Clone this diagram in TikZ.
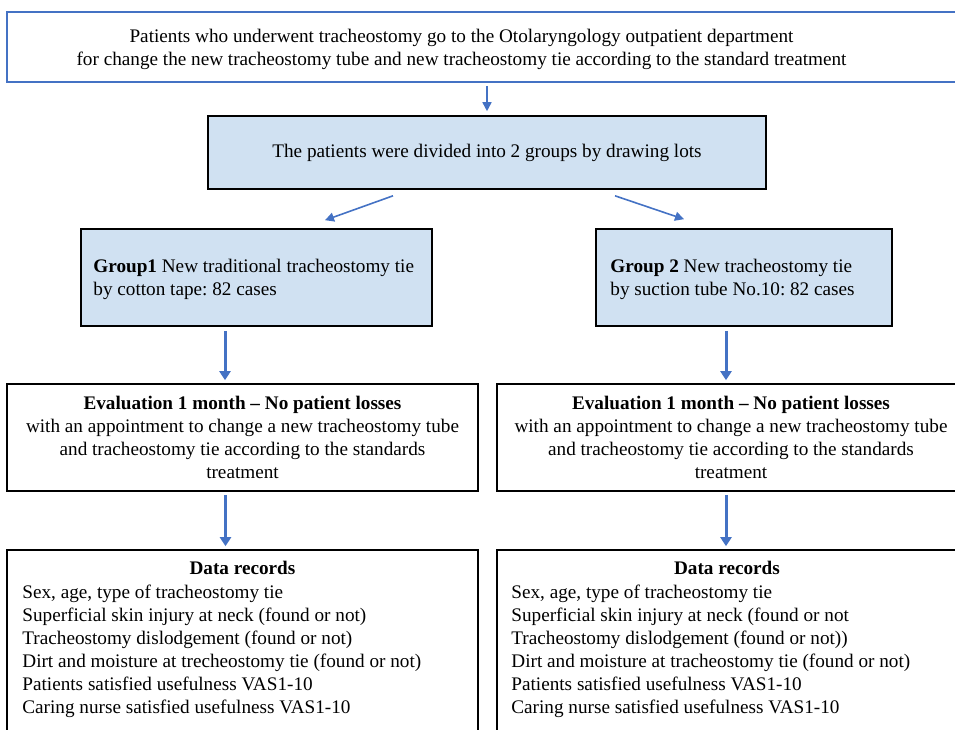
\documentclass[tikz,border=0pt]{standalone}
\usepackage{fontspec}
\setmainfont{Liberation Serif}
\usetikzlibrary{arrows.meta}
\definecolor{arrblue}{HTML}{4472C4}
\definecolor{boxfill}{HTML}{D0E1F2}
\frenchspacing
\tikzset{
  box/.style={draw=black, line width=1.6pt, inner sep=0pt},
  bluebox/.style={box, fill=boxfill},
  topframe/.style={draw=arrblue, line width=1.8pt, inner sep=0pt},
  txt/.style={inner sep=0pt, align=center},
  arrthin/.style={draw=arrblue, line width=1.6pt, -{Triangle[length=9pt,width=9pt]}},
  arrthick/.style={draw=arrblue, line width=3pt, -{Triangle[length=9pt,width=11pt]}},
}
\begin{document}
\begin{tikzpicture}[x=1pt,y=-1pt,font=\fontsize{19.2}{23}\selectfont]
\useasboundingbox (0,0) rectangle (955,729);
\clip (0,0) rectangle (955,729);
% top box
\node[topframe, minimum width=970pt, minimum height=70pt] (top) at (492,47) {};
\node[txt] (toptxt) at (461.5,49) {Patients who underwent tracheostomy go to the Otolaryngology outpatient department\\for change the new tracheostomy tube and new tracheostomy tie according to the standard treatment};
% divided box
\node[bluebox, minimum width=558pt, minimum height=73pt] (div) at (487,152.5) {\raisebox{-3pt}{The patients were divided into 2 groups by drawing lots}};
% group boxes
\node[bluebox, minimum width=351pt, minimum height=97pt] (g1) at (256.5,277.5) {};
\node[bluebox, minimum width=296pt, minimum height=97pt] (g2) at (744,277.5) {};
\node[txt, anchor=west, align=left] (g1t) at ([xshift=13pt,yshift=-2pt]g1.west) {\textbf{Group1} New traditional tracheostomy tie\\by cotton tape: 82 cases};
\node[txt, anchor=west, align=left] (g2t) at ([xshift=15pt,yshift=-2pt]g2.west) {\textbf{Group 2} New tracheostomy tie\\by suction tube No.10: 82 cases};
% evaluation boxes
\node[box, minimum width=471pt, minimum height=107pt, align=center] (ev1) at (242.5,437.5) {\textbf{Evaluation 1 month -- No patient losses}\\with an appointment to change a new tracheostomy tube\\and tracheostomy tie according to the standards\\treatment};
\node[box, minimum width=468pt, minimum height=107pt, align=center] (ev2) at (731,437.5) {\textbf{Evaluation 1 month -- No patient losses}\\with an appointment to change a new tracheostomy tube\\and tracheostomy tie according to the standards\\treatment};
% data boxes
\node[box, minimum width=471pt, minimum height=210pt] (d1) at (242.5,655) {};
\node[box, minimum width=468pt, minimum height=210pt] (d2) at (731,655) {};
\node[txt, anchor=north] (d1h) at ([yshift=-12pt]d1.north) {\textbf{Data records}};
\node[txt, anchor=north] (d2h) at ([xshift=-4pt,yshift=-12pt]d2.north) {\textbf{Data records}};
\node[txt, anchor=north west, align=left] (d1l) at ([xshift=16pt,yshift=-36pt]d1.north west) {Sex, age, type of tracheostomy tie\\Superficial skin injury at neck (found or not)\\Tracheostomy dislodgement (found or not)\\Dirt and moisture at trecheostomy tie (found or not)\\Patients satisfied usefulness VAS1-10\\Caring nurse satisfied usefulness VAS1-10};
\node[txt, anchor=north west, align=left] (d2l) at ([xshift=15pt,yshift=-36pt]d2.north west) {Sex, age, type of tracheostomy tie\\Superficial skin injury at neck (found or not\\Tracheostomy dislodgement (found or not))\\Dirt and moisture at tracheostomy tie (found or not)\\Patients satisfied usefulness VAS1-10\\Caring nurse satisfied usefulness VAS1-10};
% arrows
\draw[arrthin] ([xshift=-5pt,yshift=-3pt]top.south) -- ([yshift=4pt]div.north);
\draw[arrthin] ([xshift=-94pt,yshift=-6pt]div.south) -- ([xshift=68.5pt,yshift=8pt]g1.north);
\draw[arrthin] ([xshift=128pt,yshift=-6pt]div.south) -- ([xshift=-60pt,yshift=9pt]g2.north);
\draw[arrthick] ([xshift=-31.5pt,yshift=-4pt]g1.south) -- ([xshift=-17.5pt,yshift=3pt]ev1.north);
\draw[arrthick] ([xshift=-18pt,yshift=-4pt]g2.south) -- ([xshift=-5pt,yshift=3pt]ev2.north);
\draw[arrthick] ([xshift=-17pt,yshift=-3pt]ev1.south) -- ([xshift=-17pt,yshift=3pt]d1.north);
\draw[arrthick] ([xshift=-5pt,yshift=-3pt]ev2.south) -- ([xshift=-5pt,yshift=3pt]d2.north);
\end{tikzpicture}
\end{document}
